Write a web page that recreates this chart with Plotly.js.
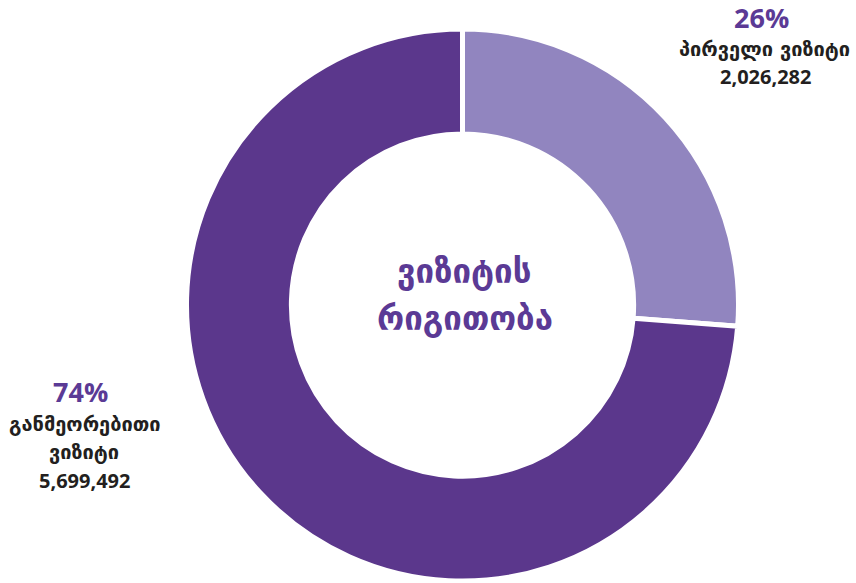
<!DOCTYPE html>
<html>
<head>
<meta charset="utf-8">
<script src="https://cdn.plot.ly/plotly-3.0.1.min.js"></script>
<style>html,body{margin:0;padding:0;background:#fff;}#chart{width:856px;height:583px;}</style>
</head>
<body>
<div id="chart"></div>
<script>
const categories = ["პირველი ვიზიტი", "განმეორებითი ვიზიტი"];
const values = [2026282, 5699492];
const percentLabels = ["26%", "74%"];
const valueLabels = ["2,026,282", "5,699,492"];
const centerTitle = ["ვიზიტის", "რიგითობა"];
const colors = ["#9185bf", "#5b378c"];

const W = 856, H = 583;
const cx = 462.5, cy = 305, R = 276;
const px = x => x / W;
const py = y => 1 - y / H;

const geoFont = "DejaVu Sans, Noto Sans, sans-serif";
const numFont = "Open Sans, Liberation Sans, sans-serif";
const purple = "#5b3a95";
const dark = "#231f20";

const trace = {
  type: "pie",
  labels: categories,
  values: values,
  hole: 0.62,
  sort: false,
  direction: "clockwise",
  rotation: 0,
  textinfo: "none",
  hoverinfo: "label+value+percent",
  marker: {colors: colors, line: {color: "#ffffff", width: 5}},
  domain: {x: [(cx - R) / W, (cx + R) / W], y: [(H - cy - R) / H, (H - cy + R) / H]},
  showlegend: false
};

function ann(text, x, y, size, color, family, bold) {
  return {
    text: bold ? "<b>" + text + "</b>" : text,
    x: px(x), y: py(y), xref: "paper", yref: "paper",
    xanchor: "center", yanchor: "middle", showarrow: false,
    borderpad: 0,
    font: {size: size, color: color, family: family}
  };
}

const words0 = categories[0];
const words1 = categories[1].split(" ");

const annotations = [
  ann(percentLabels[0], 761, 18, 27, purple, numFont, true),
  ann(words0, 764, 49, 20, dark, geoFont, true),
  ann(valueLabels[0], 765, 76, 20, dark, numFont, true),
  ann(percentLabels[1], 80, 391, 27, purple, numFont, true),
  ann(words1[0], 85, 424, 20, dark, geoFont, true),
  ann(words1[1], 84, 452, 20, dark, geoFont, true),
  ann(valueLabels[1], 84, 480, 20, dark, numFont, true),
  ann(centerTitle[0], 464, 271, 33, purple, geoFont, true),
  ann(centerTitle[1], 465, 318, 33, purple, geoFont, true)
];

const layout = {
  width: W, height: H,
  margin: {l: 0, r: 0, t: 0, b: 0},
  paper_bgcolor: "#ffffff",
  annotations: annotations
};

Plotly.newPlot("chart", [trace], layout, {displayModeBar: false, staticPlot: true});
</script>
</body>
</html>
